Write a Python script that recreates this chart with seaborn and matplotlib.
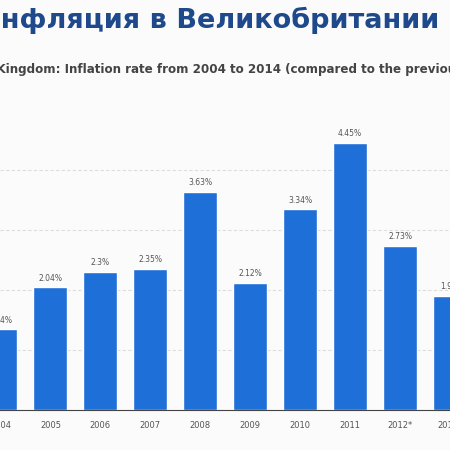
import matplotlib
matplotlib.use("Agg")
import matplotlib.pyplot as plt
import seaborn as sns
import pandas as pd

years = ["2004", "2005", "2006", "2007", "2008", "2009", "2010", "2011", "2012*", "2013*"]
rates = [1.34, 2.04, 2.3, 2.35, 3.63, 2.12, 3.34, 4.45, 2.73, 1.9]
labels = ["1.34%", "2.04%", "2.3%", "2.35%", "3.63%", "2.12%", "3.34%", "4.45%", "2.73%", "1.9%"]

sns.set_theme(style="white")
plt.rcParams["font.family"] = ["DejaVu Sans"]

df = pd.DataFrame({"Year": years, "Rate": rates})

fig = plt.figure(figsize=(4.5, 4.5), dpi=100)
fig.patch.set_facecolor("#fbfbfb")
ax = fig.add_axes([0, 0.089, 1, 0.69])
ax.set_facecolor("#fbfbfb")

sns.barplot(data=df, x="Year", y="Rate", color="#1f6fd8", saturation=1, width=0.68, ax=ax)

for i, (v, t) in enumerate(zip(rates, labels)):
    ax.text(i, v + 0.08, t, ha="center", va="bottom", fontsize=5.5, color="#555555")

ax.set_xlim(-0.01, 9.0)
ax.set_ylim(0, 5.17)
ax.set_yticks([1, 2, 3, 4])
ax.yaxis.grid(True, linestyle=(0, (3, 2)), color="#dddddd", linewidth=0.8)
ax.set_axisbelow(True)
ax.tick_params(axis="y", left=False, labelleft=False)
ax.tick_params(axis="x", labelsize=6, colors="#555555", pad=8, length=0)
ax.set_xlabel("")
ax.set_ylabel("")
for s in ["top", "left", "right"]:
    ax.spines[s].set_visible(False)
ax.spines["bottom"].set_color("#444444")
ax.spines["bottom"].set_linewidth(0.8)

fig.text(-0.05, 0.955, "Инфляция в Великобритании", fontsize=19.5, fontweight="bold",
         color="#1e4a8c", va="center", ha="left")
fig.text(-0.115, 0.845, "United Kingdom: Inflation rate from 2004 to 2014 (compared to the previous year)",
         fontsize=8.6, fontweight="bold", color="#444444", va="center", ha="left")

fig.savefig("out.png", dpi=100)
